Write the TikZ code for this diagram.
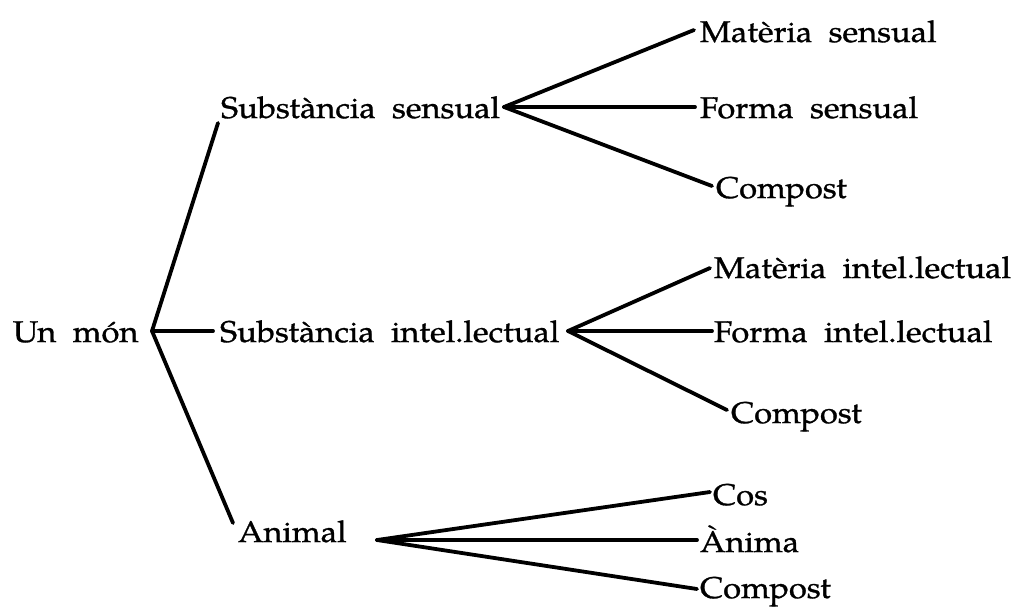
\documentclass[tikz,border=0pt]{standalone}
\usepackage{fontspec}
\setmainfont{TeX Gyre Pagella}[FakeStretch=1.09, WordSpace=2, FakeBold=1]
\begin{document}
\begin{tikzpicture}[x=1pt, y=-1pt,
  term/.style={anchor=base west, inner sep=0pt, outer sep=0pt,
               font=\fontsize{30}{36}\selectfont},
  branch/.style={line width=3.8pt, line cap=round, line join=round}]
\useasboundingbox (0,0) rectangle (1016,606);

% first level
\node[term] (um) at (13,342) {Un món};
\node[term] (ss) at (221,118) {Substància sensual};
\node[term] (si) at (220,342) {Substància intel.lectual};
\node[term] (an) at (238,542) {Animal};

% second level
\node[term] (ms) at (700,42)  {Matèria sensual};
\node[term] (fs) at (700,118) {Forma sensual};
\node[term] (c1) at (716,198) {Compost};
\node[term] (mi) at (714,278) {Matèria intel.lectual};
\node[term] (fi) at (714,342) {Forma intel.lectual};
\node[term] (c2) at (731,423) {Compost};
\node[term] (cs) at (713,505) {Cos};
\node[term] (am) at (700,552) {Ànima};
\node[term] (c3) at (700,598) {Compost};

% branching points
\coordinate (r0) at (152,331);
\coordinate (r1) at (504,107);
\coordinate (r2) at (568,331);
\coordinate (r3) at (377,540);

\draw[branch] (r0) -- ([xshift=-3pt,yshift=-5pt]ss.base west);
\draw[branch] (r0) -- ([xshift=-7pt,yshift=11pt]si.base west);
\draw[branch] (r0) -- ([xshift=-5pt,yshift=19pt]an.base west);

\draw[branch] (r1) -- ([xshift=-6pt,yshift=12pt]ms.base west);
\draw[branch] (r1) -- ([xshift=-5pt,yshift=11pt]fs.base west);
\draw[branch] (r1) -- ([xshift=-4pt,yshift=12pt]c1.base west);

\draw[branch] (r2) -- ([xshift=-4pt,yshift=10pt]mi.base west);
\draw[branch] (r2) -- ([xshift=-2pt,yshift=11pt]fi.base west);
\draw[branch] (r2) -- ([xshift=-4pt,yshift=13pt]c2.base west);

\draw[branch] (r3) -- ([xshift=-3pt,yshift=13pt]cs.base west);
\draw[branch] (r3) -- ([xshift=-3pt,yshift=12pt]am.base west);
\draw[branch] (r3) -- ([xshift=-3pt,yshift=9pt]c3.base west);
\end{tikzpicture}
\end{document}
